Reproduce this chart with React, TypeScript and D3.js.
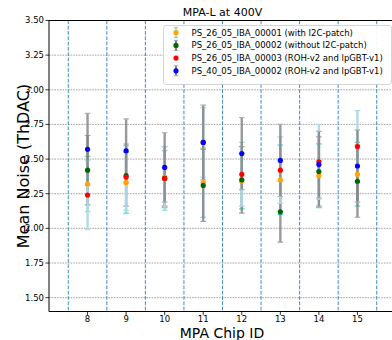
import * as d3 from "d3";

// ─── layout ───
const W = 392;
const H = 340;
const plot = { left: 49, right: 396, top: 20.5, bottom: 311.5 };

// ─── data ───
const chips = [8, 9, 10, 11, 12, 13, 14, 15];
const yTicks = [1.5, 1.75, 2.0, 2.25, 2.5, 2.75, 3.0, 3.25, 3.5];
const dividers = [7.5, 8.5, 9.5, 10.5, 11.5, 12.5, 13.5, 14.5, 15.5];

const seriesNames = [
  "PS_26_05_IBA_00001 (with I2C-patch)",
  "PS_26_05_IBA_00002 (without I2C-patch)",
  "PS_26_05_IBA_00003 (ROH-v2 and lpGBT-v1)",
  "PS_40_05_IBA_00002 (ROH-v2 and lpGBT-v1)",
];
const markerColors = ["orange", "darkgreen", "red", "blue"];
const barColors = ["lightblue", "gray", "lightblue", "gray"];
const capColors = ["turquoise", "#a0a0a0", "lightblue", "#b0b0b0"];

const meanOrange = [2.32, 2.33, 2.37, 2.33, 2.34, 2.35, 2.38, 2.39];
const meanGreen = [2.42, 2.38, 2.36, 2.31, 2.35, 2.12, 2.41, 2.34];
const meanRed = [2.24, 2.37, 2.36, 2.62, 2.39, 2.42, 2.48, 2.59];
const meanBlue = [2.57, 2.56, 2.44, 2.62, 2.54, 2.49, 2.46, 2.45];

const errOrange = [0.2, 0.22, 0.22, 0.25, 0.2, 0.25, 0.23, 0.23];
const errGreen = [0.25, 0.22, 0.2, 0.26, 0.24, 0.22, 0.25, 0.26];
const errRed = [0.25, 0.24, 0.23, 0.25, 0.23, 0.24, 0.27, 0.26];
const errBlue = [0.26, 0.23, 0.25, 0.27, 0.26, 0.26, 0.24, 0.26];

const means = [meanOrange, meanGreen, meanRed, meanBlue];
const errs = [errOrange, errGreen, errRed, errBlue];

// ─── scales ───
const x = d3.scaleLinear().domain([7, 16]).range([plot.left, plot.right]);
const y = d3.scaleLinear().domain([1.4, 3.5]).range([plot.bottom, plot.top]);

const FONT = "DejaVu Sans, sans-serif";
const CAP = 2.8;

export default function App() {
  return (
    <div style={{ position: "fixed", left: 0, top: 0 }}>
      <svg width={W} height={H} style={{ display: "block", background: "#fff" }}>
        <defs>
          <clipPath id="plotclip">
            <rect x={plot.left} y={plot.top} width={plot.right - plot.left} height={plot.bottom - plot.top} />
          </clipPath>
        </defs>

        {/* horizontal dotted grid */}
        {yTicks.map(t => (
          <line key={"g" + t} x1={plot.left} x2={plot.right} y1={y(t)} y2={y(t)}
            stroke="#8c8c8c" strokeWidth={0.8} strokeDasharray="1.6 1.1" />
        ))}

        {/* vertical dashed chip dividers */}
        {dividers.map(d => (
          <line key={"v" + d} x1={x(d)} x2={x(d)} y1={plot.top} y2={plot.bottom}
            stroke="#1f77b4" strokeOpacity={0.85} strokeWidth={1} strokeDasharray="3.7 1.6" />
        ))}

        {/* error bars */}
        <g clipPath="url(#plotclip)">
          {means.map((m, si) => (
            <g key={"eb" + si}>
              {chips.map((c, ci) => {
                const lo = y(m[ci] - errs[si][ci]);
                const hi = y(m[ci] + errs[si][ci]);
                const cx = x(c);
                return (
                  <g key={c}>
                    <line x1={cx} x2={cx} y1={lo} y2={hi} stroke={barColors[si]}
                      strokeWidth={2.4} strokeOpacity={barColors[si] === "gray" ? 0.8 : 0.95} />
                    <line x1={cx - CAP} x2={cx + CAP} y1={lo} y2={lo} stroke={capColors[si]} strokeWidth={1.2} />
                    <line x1={cx - CAP} x2={cx + CAP} y1={hi} y2={hi} stroke={capColors[si]} strokeWidth={1.2} />
                  </g>
                );
              })}
            </g>
          ))}
          {/* markers on top */}
          {means.map((m, si) => (
            <g key={"mk" + si}>
              {chips.map((c, ci) => (
                <circle key={c} cx={x(c)} cy={y(m[ci])} r={2.6} fill={markerColors[si]} />
              ))}
            </g>
          ))}
        </g>

        {/* spines */}
        <line x1={plot.left} x2={plot.left} y1={plot.top} y2={plot.bottom} stroke="#000" strokeWidth={1} />
        <line x1={plot.left} x2={plot.right} y1={plot.bottom} y2={plot.bottom} stroke="#000" strokeWidth={1} />
        <line x1={plot.left} x2={plot.right} y1={plot.top} y2={plot.top} stroke="#000" strokeWidth={1} />

        {/* y ticks */}
        {yTicks.map(t => (
          <g key={"yt" + t}>
            <line x1={plot.left - 3.5} x2={plot.left} y1={y(t)} y2={y(t)} stroke="#000" strokeWidth={0.8} />
            <text x={plot.left - 5} y={y(t)} dy="0.35em" textAnchor="end" fontSize={8.5}
              fontFamily={FONT} fill="#000">{d3.format(".2f")(t)}</text>
          </g>
        ))}

        {/* x ticks */}
        {chips.map(c => (
          <g key={"xt" + c}>
            <line x1={x(c)} x2={x(c)} y1={plot.bottom} y2={plot.bottom + 3.5} stroke="#000" strokeWidth={0.8} />
            <text x={x(c)} y={plot.bottom + 10.8} textAnchor="middle" fontSize={8.5}
              fontFamily={FONT} fill="#000">{c}</text>
          </g>
        ))}

        {/* labels */}
        <text x={222.5} y={16} textAnchor="middle" fontSize={11} fontFamily={FONT} fill="#000">
          MPA-L at 400V
        </text>
        <text x={222} y={337.5} textAnchor="middle" fontSize={14} fontFamily={FONT} fill="#000">
          MPA Chip ID
        </text>
        <text transform={`translate(29, ${(plot.top + plot.bottom) / 2}) rotate(-90)`} textAnchor="middle"
          fontSize={16} fontFamily={FONT} fill="#000">
          Mean Noise (ThDAC)
        </text>

        {/* legend */}
        <g>
          <rect x={163.5} y={25.5} width={228} height={59} rx={2.5} fill="#fff" fillOpacity={0.92}
            stroke="#cccccc" strokeWidth={0.8} />
          {seriesNames.map((name, i) => {
            const ly = 32.7 + i * 12.7;
            const lx = 176;
            return (
              <g key={name}>
                {i !== 2 && (
                  <g>
                    <line x1={lx} x2={lx} y1={ly - 5} y2={ly + 5} stroke={barColors[i]} strokeWidth={2} />
                    <line x1={lx - 2.2} x2={lx + 2.2} y1={ly - 5} y2={ly - 5} stroke={capColors[i]} strokeWidth={1} />
                    <line x1={lx - 2.2} x2={lx + 2.2} y1={ly + 5} y2={ly + 5} stroke={capColors[i]} strokeWidth={1} />
                  </g>
                )}
                <circle cx={lx} cy={ly} r={2.6} fill={markerColors[i]} />
                <text x={191.5} y={ly} dy="0.35em" fontSize={8.5} fontFamily={FONT} fill="#000">{name}</text>
              </g>
            );
          })}
        </g>
      </svg>
    </div>
  );
}
